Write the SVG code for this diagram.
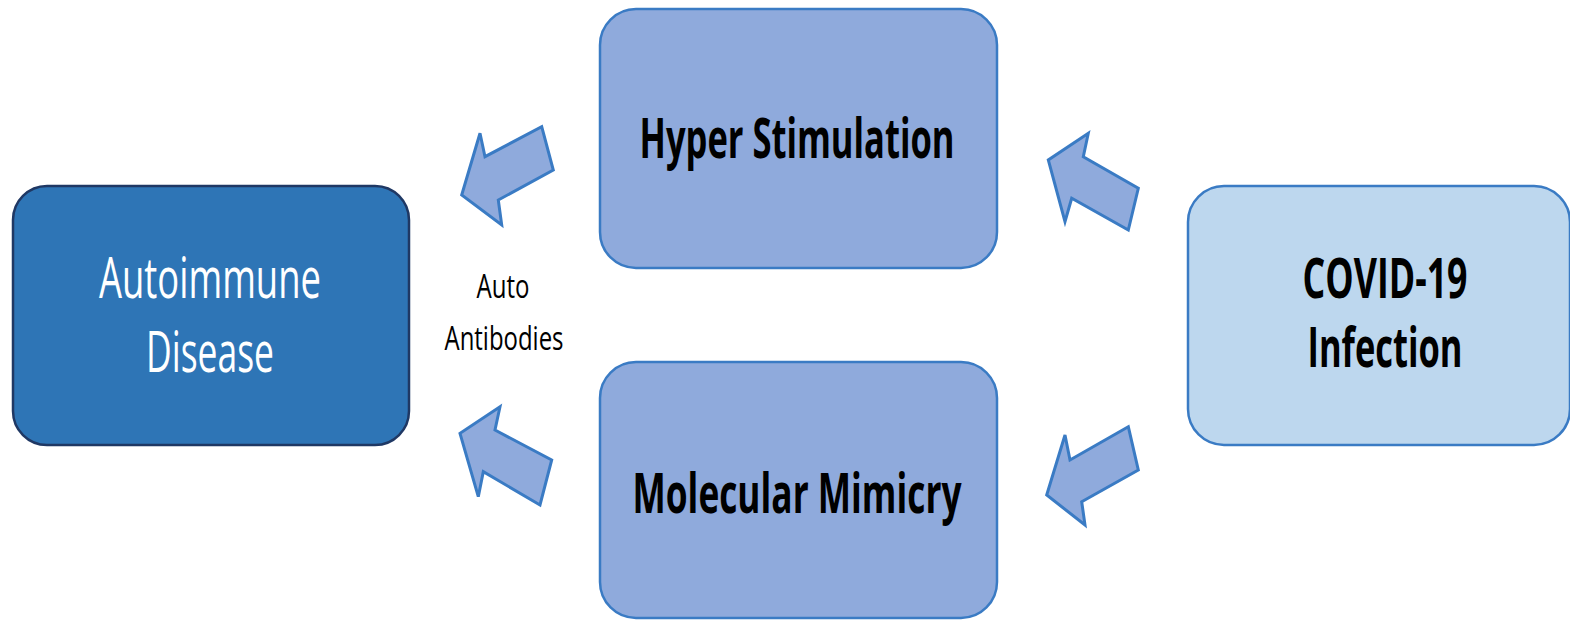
<svg xmlns="http://www.w3.org/2000/svg" width="1570" height="621" viewBox="0 0 1570 621">
<style>
.box{stroke-width:2.5}
.mid{fill:#8FAADC;stroke:#3A7BC4}
.arrow{fill:#8FAADC;stroke:#3A7BC4;stroke-width:3;stroke-linejoin:miter}
.t{font-family:"Open Sans","Liberation Sans",sans-serif;text-anchor:middle}
.b{font-weight:bold;fill:#000;font-size:55px}
.w{fill:#fff;font-size:57px}
.s{fill:#000;font-size:32px}
</style>
<rect width="1570" height="621" fill="#fff"/>
<g id="autoimmune">
<rect class="box" x="13" y="186" width="396" height="259" rx="34" fill="#2E75B6" stroke="#1F3864"/>
<text class="t w" x="210" y="298" textLength="222" lengthAdjust="spacingAndGlyphs">Autoimmune</text>
<text class="t w" x="210" y="372" textLength="128" lengthAdjust="spacingAndGlyphs">Disease</text>
</g>
<g id="hyper">
<rect class="box mid" x="600" y="9" width="397" height="259" rx="36"/>
<text class="t b" x="797" y="158" textLength="315" lengthAdjust="spacingAndGlyphs">Hyper Stimulation</text>
</g>
<g id="molecular">
<rect class="box mid" x="600" y="362" width="397" height="256" rx="36"/>
<text class="t b" x="797" y="513" textLength="329" lengthAdjust="spacingAndGlyphs">Molecular Mimicry</text>
</g>
<g id="covid">
<rect class="box" x="1188" y="186" width="382" height="259" rx="36" fill="#BDD7EE" stroke="#3A7BC4"/>
<text class="t b" x="1385" y="298" textLength="165" lengthAdjust="spacingAndGlyphs">COVID-19</text>
<text class="t b" x="1385" y="367" textLength="155" lengthAdjust="spacingAndGlyphs">Infection</text>
</g>
<g id="label-auto-antibodies">
<text class="t s" x="503" y="298" textLength="53" lengthAdjust="spacingAndGlyphs">Auto</text>
<text class="t s" x="504" y="350" textLength="119" lengthAdjust="spacingAndGlyphs">Antibodies</text>
</g>
<g id="connectors">
<polygon class="arrow" points="541.7,126.7 553.3,170 498.3,200 501.7,225 461.7,195 480,133.3 485,156.7"/>
<polygon class="arrow" points="500,406.7 495,430 551.7,460 540,505 483.3,471.7 478.3,496.7 460,433.3"/>
<polygon class="arrow" points="1088.3,133.3 1083.3,156.7 1138.3,188.3 1128.3,230 1071.7,198.3 1065,221.7 1048.3,160"/>
<polygon class="arrow" points="1128.3,426.7 1138.3,470 1081.7,501.7 1085,525 1046.7,495 1065,435 1070,460"/>
</g>
</svg>
